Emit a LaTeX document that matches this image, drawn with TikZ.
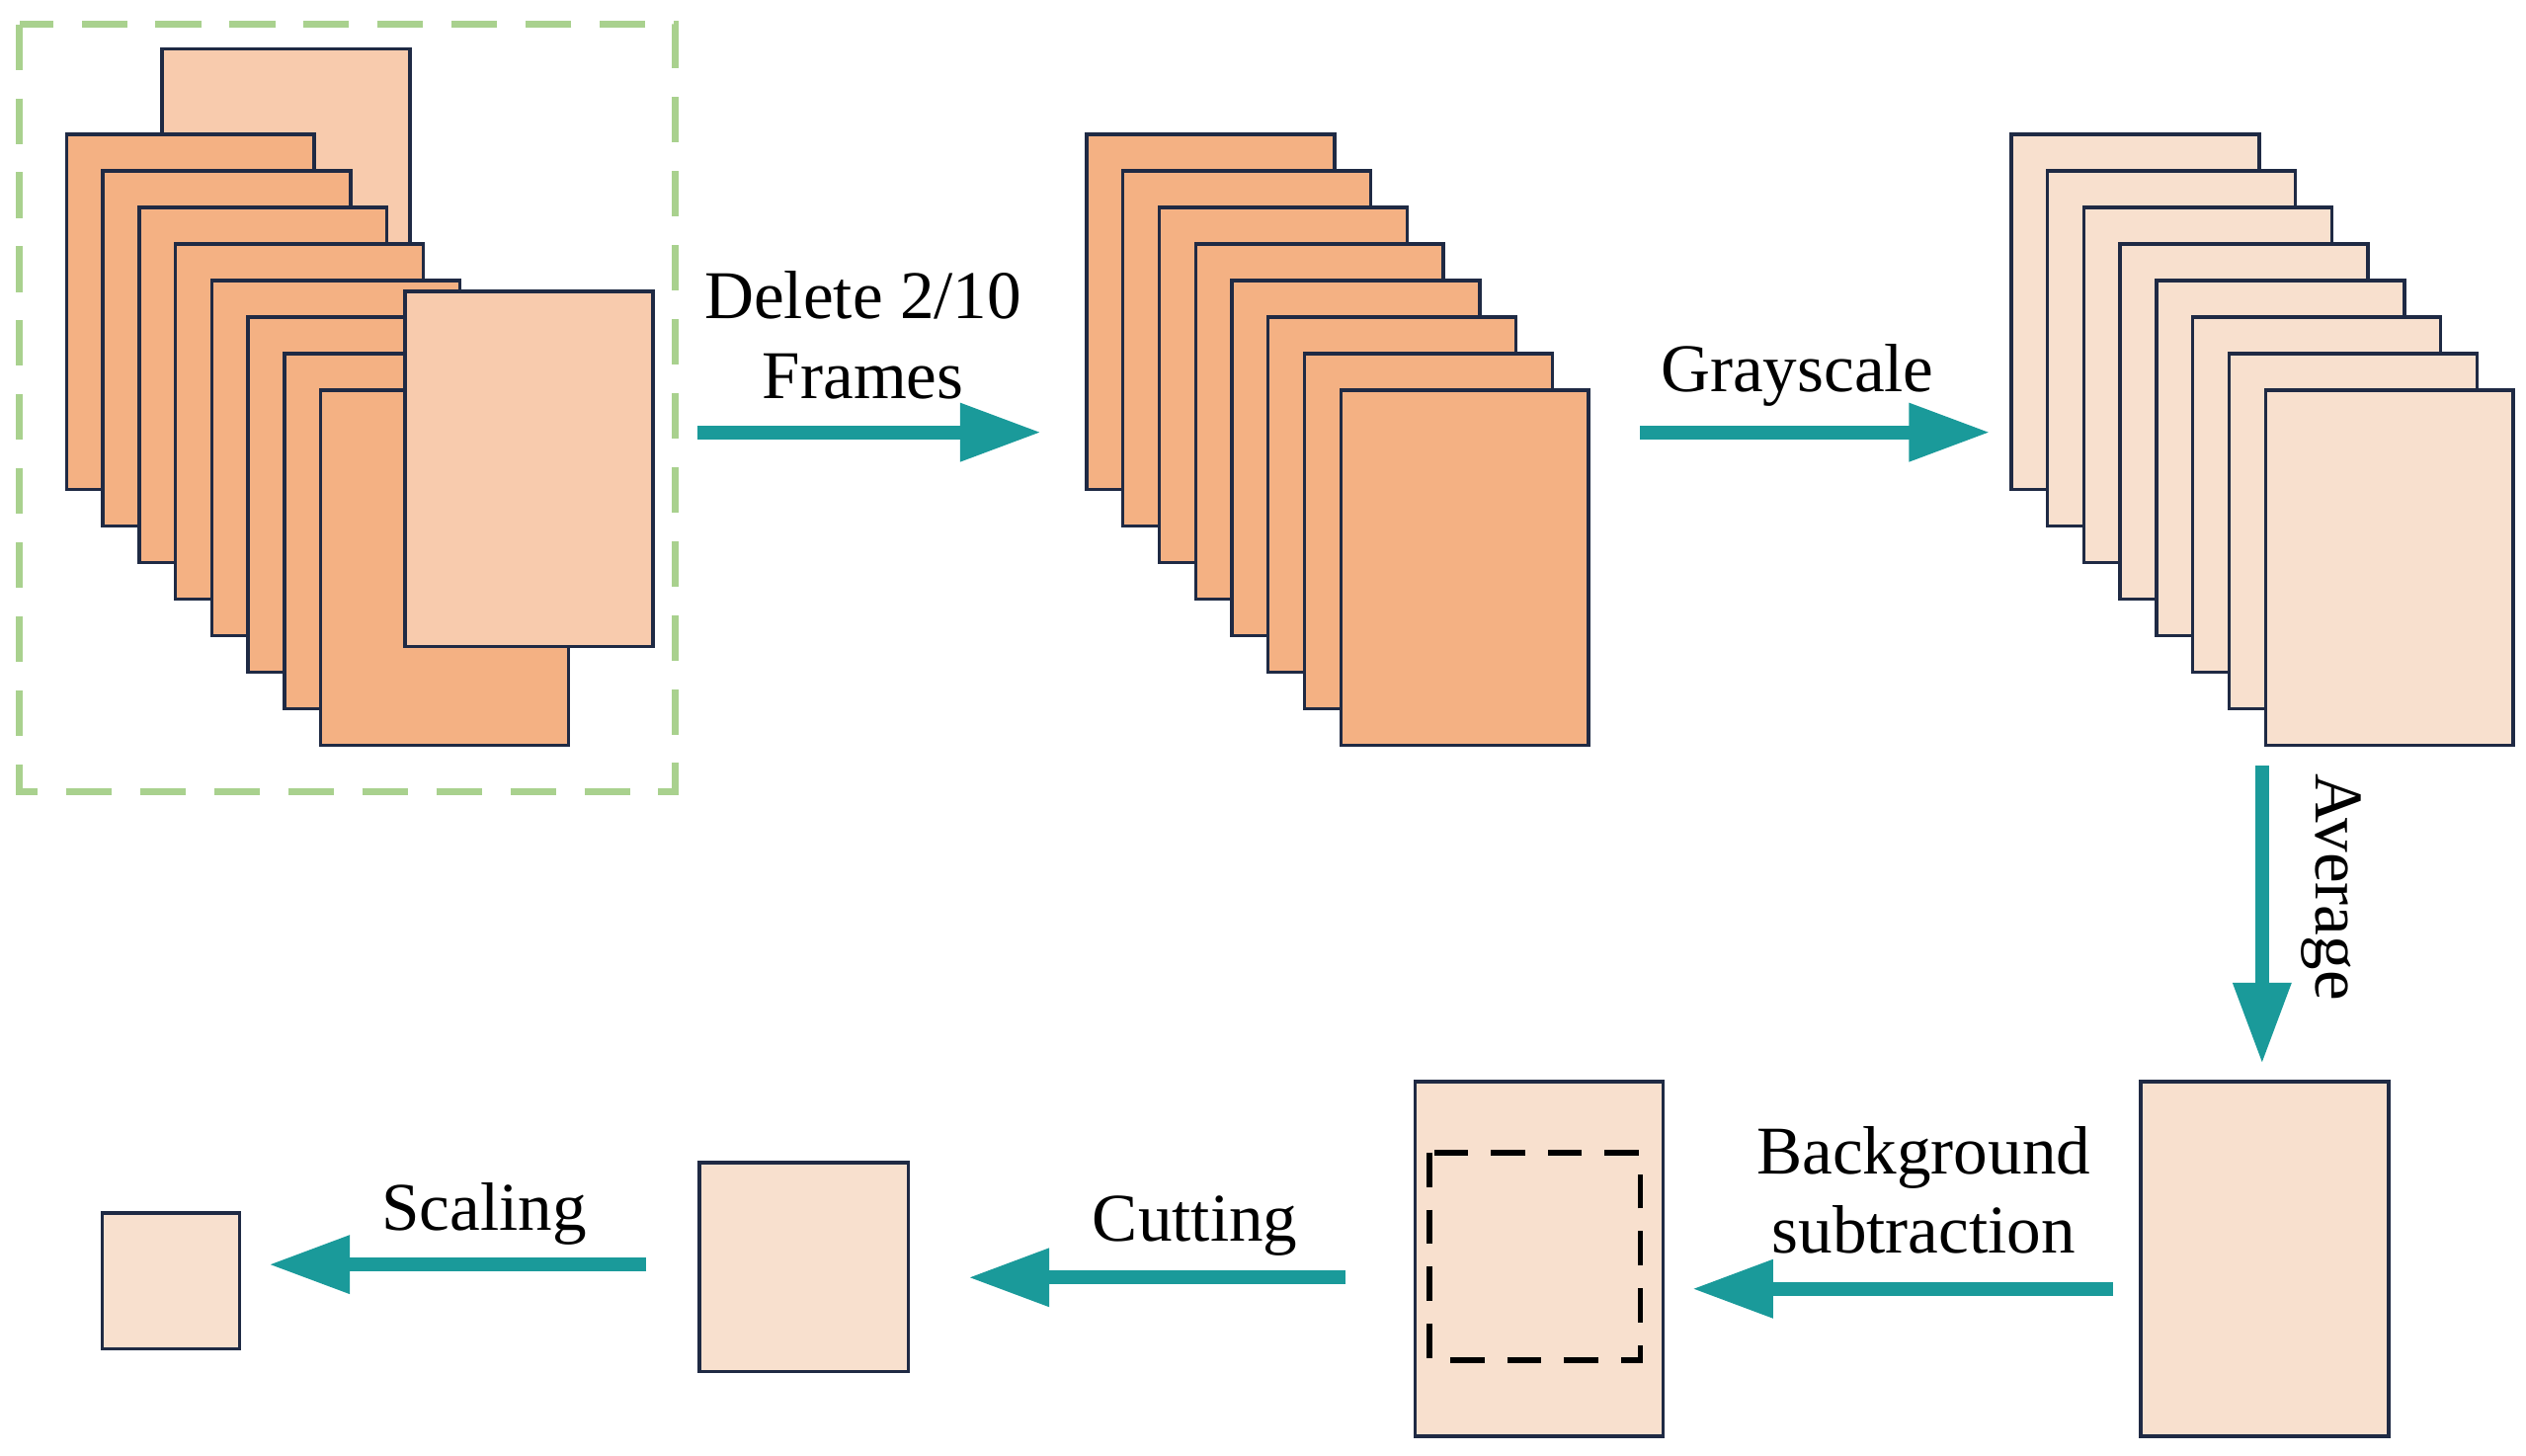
\documentclass[tikz,border=0pt]{standalone}
\usepackage{fontspec}
\setmainfont{Liberation Serif}
\usetikzlibrary{arrows.meta}
\definecolor{darkor}{HTML}{F4B183}
\definecolor{lightor}{HTML}{F8CBAD}
\definecolor{grayor}{HTML}{F8E0CE}
\definecolor{teal}{HTML}{1A9A9A}
\definecolor{edge}{HTML}{1F2A44}
\definecolor{dashgreen}{HTML}{A9D18E}
\begin{document}
\begin{tikzpicture}[x=0.01cm,y=-0.01cm,
  font=\fontsize{12}{14}\selectfont,align=center,
  frame/.style={draw=edge,line width=0.6pt,anchor=north west,inner sep=0pt,
    minimum width=1.53cm,minimum height=2.19cm},
  flow/.style={draw=teal,line width=2.4pt,-{Triangle[length=0.5cm,width=0.34cm]}}]
  \useasboundingbox (0,0) rectangle (1560,899);
  % input frames
  \draw[dashgreen,dashed,line width=1.2pt,dash pattern=on 8pt off 5pt] (12,15) rectangle (417,489);
  \node[frame,fill=lightor] (back) at (99,29) {};
  \foreach \i in {0,...,7}
    \node[frame,fill=darkor] (a\i) at (40+22.43*\i,82+22.57*\i) {};
  \node[frame,fill=lightor] (front) at (249,179) {};
  % kept frames
  \foreach \i in {0,...,7}
    \node[frame,fill=darkor] (b\i) at (670+22.43*\i,82+22.57*\i) {};
  % grayscale frames
  \foreach \i in {0,...,7}
    \node[frame,fill=grayor] (c\i) at (1241+22.43*\i,82+22.57*\i) {};
  % bottom row
  \node[frame,fill=grayor] (avg) at (1321,667) {};
  \node[frame,fill=grayor] (sub) at (873,667) {};
  \draw[dashed,line width=1pt,dash pattern=on 6pt off 4pt] (883,712) rectangle (1013,840);
  \node[frame,fill=grayor,minimum width=1.29cm,minimum height=1.29cm] (cut) at (431,717) {};
  \node[frame,fill=grayor,minimum width=0.85cm,minimum height=0.84cm] (scl) at (62,748) {};
  % arrows
  \coordinate (p1) at (431,267); \coordinate (q1) at (643,267);
  \coordinate (p2) at (1013,267); \coordinate (q2) at (1229,267);
  \coordinate (p3) at (1397,473); \coordinate (q3) at (1397,657);
  \coordinate (p4) at (1305,796); \coordinate (q4) at (1045,796);
  \coordinate (p5) at (831,789); \coordinate (q5) at (598,789);
  \coordinate (p6) at (399,781); \coordinate (q6) at (166,781);
  \draw[flow] (p1) -- (q1);
  \draw[flow] (p2) -- (q2);
  \draw[flow] (p3) -- (q3);
  \draw[flow] (p4) -- (q4);
  \draw[flow] (p5) -- (q5);
  \draw[flow] (p6) -- (q6);
  \node (l1) at (533,207) {Delete 2/10\\Frames};
  \node (l2) at (1110,232) {Grayscale};
  \node[rotate=-90] (l3) at (1440,548) {Average};
  \node (l4) at (1188,735) {Background\\subtraction};
  \node (l5) at (738,757) {Cutting};
  \node (l6) at (299,750) {Scaling};
\end{tikzpicture}
\end{document}
